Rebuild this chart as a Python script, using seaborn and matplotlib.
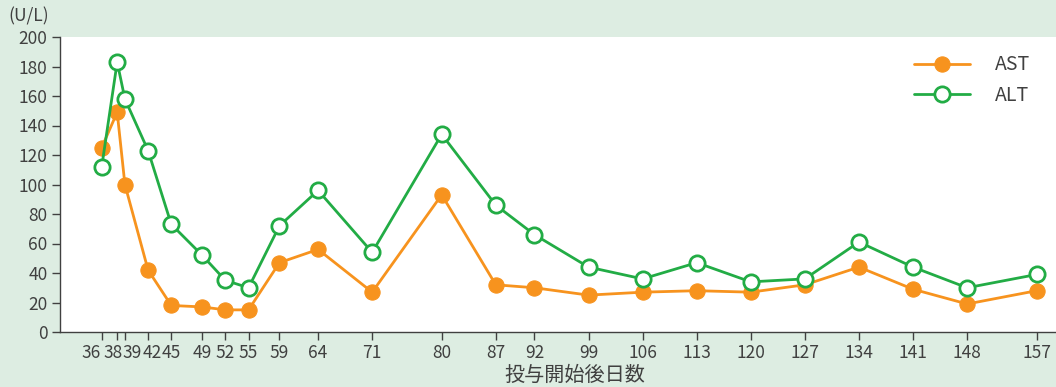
import pandas as pd
import numpy as np

import seaborn as sns
import matplotlib.pyplot as plt
from matplotlib.transforms import ScaledTranslation

sns.set_style("white")
plt.rcParams['font.family'] = ['Noto Sans CJK JP', 'DejaVu Sans']

BG = "#ddede2"
ORANGE = "#f7931e"
GREEN = "#22ac45"
TEXT = "#404040"

days = [36, 38, 39, 42, 45, 49, 52, 55, 59, 64, 71, 80, 87, 92, 99, 106, 113, 120, 127, 134, 141, 148, 157]
ast = [125, 149, 100, 42, 18, 17, 15, 15, 47, 56, 27, 93, 32, 30, 25, 27, 28, 27, 32, 44, 29, 19, 28]
alt = [112, 183, 158, 123, 73, 52, 35, 30, 72, 96, 54, 134, 86, 66, 44, 36, 47, 34, 36, 61, 44, 30, 39]

# crowded labels at the start are nudged sideways (pixels)
label_shift = {36: -11, 38: -4, 39: 7, 42: 4}

df = pd.DataFrame({"day": days, "AST": ast, "ALT": alt})

fig = plt.figure(figsize=(10.56, 3.87), dpi=100, facecolor=BG)
ax = fig.add_axes([60 / 1056, 55 / 387, 996 / 1056, 295 / 387])
ax.set_facecolor("white")

sns.lineplot(data=df, x="day", y="AST", ax=ax, color=ORANGE, lw=2,
             marker="o", markersize=11, markerfacecolor=ORANGE,
             markeredgecolor=ORANGE, label="AST")
sns.lineplot(data=df, x="day", y="ALT", ax=ax, color=GREEN, lw=2,
             marker="o", markersize=11, markerfacecolor="white",
             markeredgecolor=GREEN, markeredgewidth=2, label="ALT")

ax.set_xlim(30.6, 159.5)
ax.set_ylim(0, 200)
ax.set_xticks(days)
ax.set_xticklabels([str(d) for d in days])
ax.set_yticks(np.arange(0, 201, 20))
ax.tick_params(axis="both", direction="out", length=6, width=1, color=TEXT,
               labelsize=12.5, labelcolor=TEXT, pad=3)
ax.tick_params(axis="x", bottom=True)
ax.tick_params(axis="y", left=True)
for s in ["top", "right"]:
    ax.spines[s].set_visible(False)
for s in ["left", "bottom"]:
    ax.spines[s].set_color(TEXT)
    ax.spines[s].set_linewidth(1)
ax.set_xlabel("")
ax.set_ylabel("")

for d, tick in zip(days, ax.xaxis.get_major_ticks()):
    if d in label_shift:
        off = ScaledTranslation(label_shift[d] / 100, 0, fig.dpi_scale_trans)
        tick.label1.set_transform(tick.label1.get_transform() + off)

leg = ax.legend(loc="upper right", bbox_to_anchor=(0.992, 1.0), frameon=False,
                fontsize=14, handlelength=2.9, handletextpad=1.3, labelspacing=0.5,
                labelcolor=TEXT)

fig.text(8 / 1056, 1 - 16 / 387, "(U/L)", fontsize=12.5, color=TEXT, va="center", ha="left")
fig.text(575 / 1056, 1 - 375 / 387, "投与開始後日数", fontsize=14.5, color=TEXT, va="center", ha="center")

fig.savefig("out.png", dpi=100, facecolor=BG)
